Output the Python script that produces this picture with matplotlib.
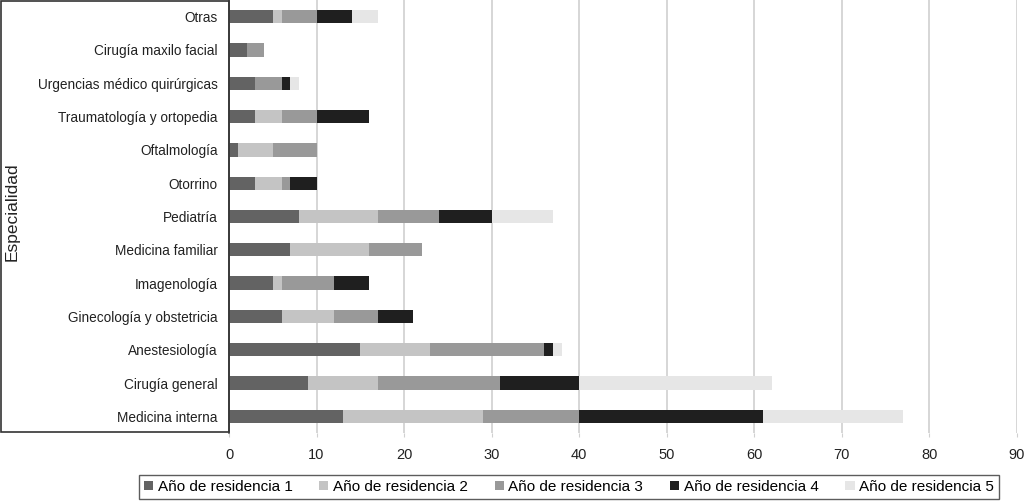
import numpy as np
import matplotlib.pyplot as plt
from matplotlib.patches import Rectangle

plt.rcParams['font.family'] = ['Liberation Sans', 'DejaVu Sans']

# especialidades (de abajo hacia arriba)
especialidades = ['Medicina interna', 'Cirugía general', 'Anestesiología',
                  'Ginecología y obstetricia', 'Imagenología', 'Medicina familiar',
                  'Pediatría', 'Otorrino', 'Oftalmología', 'Traumatología y ortopedia',
                  'Urgencias médico quirúrgicas', 'Cirugía maxilo facial', 'Otras']

anio1 = [13, 9, 15, 6, 5, 7, 8, 3, 1, 3, 3, 2, 5]
anio2 = [16, 8, 8, 6, 1, 9, 9, 3, 4, 3, 0, 0, 1]
anio3 = [11, 14, 13, 5, 6, 6, 7, 1, 5, 4, 3, 2, 4]
anio4 = [21, 9, 1, 4, 4, 0, 6, 3, 0, 6, 1, 0, 4]
anio5 = [16, 22, 1, 0, 0, 0, 7, 0, 0, 0, 1, 0, 3]

series = [anio1, anio2, anio3, anio4, anio5]
nombres = ['Año de residencia 1', 'Año de residencia 2', 'Año de residencia 3',
           'Año de residencia 4', 'Año de residencia 5']
colores = ['#636363', '#c4c4c4', '#999999', '#1f1f1f', '#e6e6e6']

fig = plt.figure(figsize=(10.24, 5.01), dpi=100)
ax = fig.add_axes([229/1024, 1 - 433/501, (1017 - 229)/1024, 433/501])

y = np.arange(len(especialidades))
izq = np.zeros(len(especialidades))
for vals, nom, col in zip(series, nombres, colores):
    ax.barh(y, vals, left=izq, height=0.4, color=col, label=nom, zorder=3)
    izq += np.array(vals)

ax.set_xlim(0, 90)
ax.set_ylim(-0.5, len(especialidades) - 0.5)
ax.set_xticks(range(0, 91, 10))
ax.set_yticks(y)
ax.set_yticklabels(especialidades)
ax.grid(axis='x', color='#d0d0d0', linewidth=1.2, zorder=0)
ax.tick_params(axis='x', length=3, color='#d0d0d0', pad=8, labelsize=10.5, labelcolor='#222222')
ax.tick_params(axis='y', length=0, pad=8, labelsize=9.8, labelcolor='#222222')
for s in ['top', 'right', 'bottom']:
    ax.spines[s].set_visible(False)
ax.spines['left'].set_color('#555555')
ax.spines['left'].set_linewidth(1.2)
ax.spines['left'].set_zorder(4)

# recuadro alrededor de las etiquetas
fig.patches.append(Rectangle((0.8/1024, 1 - 432/501), (229 - 0.8)/1024, 432/501 - 0.5/501,
                             transform=fig.transFigure, fill=False,
                             edgecolor='#333333', linewidth=1.2))

fig.text(12/1024, 1 - 212/501, 'Especialidad', rotation=90, ha='center', va='center',
         fontsize=12.5, color='#222222')

leg = fig.legend(loc='center', bbox_to_anchor=(569/1024, 1 - 487/501), ncol=5,
                 fontsize=11, frameon=True, fancybox=False, edgecolor='#333333',
                 handlelength=0.6, handleheight=0.6, handletextpad=0.3,
                 columnspacing=1.75, borderpad=0.3)
leg.get_frame().set_linewidth(1.0)

fig.savefig('out.png', dpi=100)
